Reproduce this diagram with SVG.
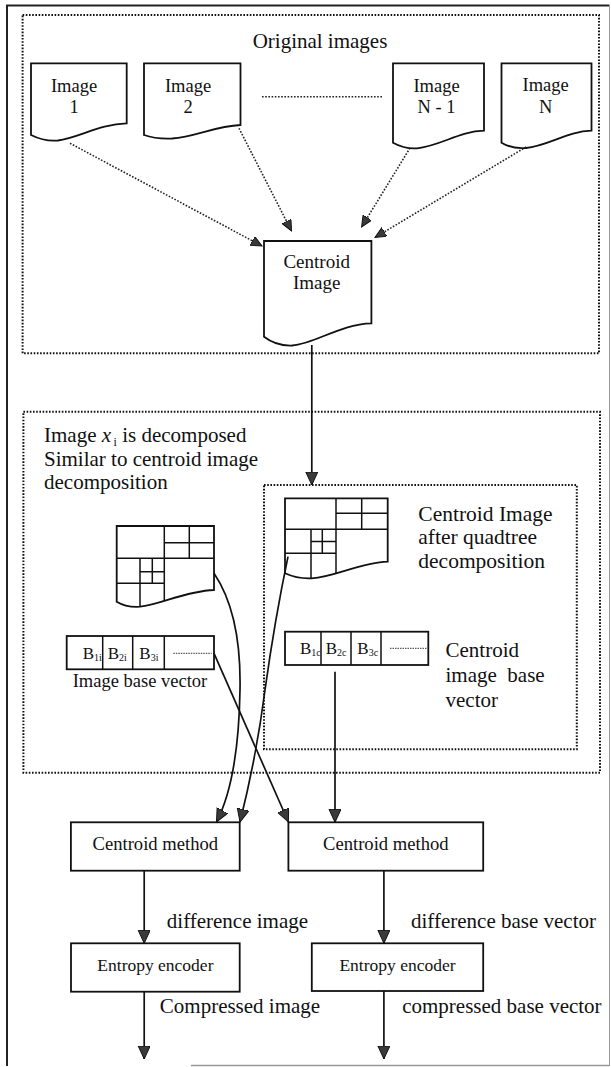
<svg xmlns="http://www.w3.org/2000/svg" width="611" height="1067" viewBox="0 0 611 1067">
<style>
text{font-family:"Liberation Serif","Times New Roman",serif;fill:#111}
.doc{fill:#fff;stroke:#111;stroke-width:1.8}
.box{fill:#fff;stroke:#111;stroke-width:1.8}
.grid{stroke:#111;stroke-width:1.5;fill:none}
.dotbox{fill:none;stroke:#111;stroke-width:2;stroke-dasharray:1.6 1.6}
.dotline{fill:none;stroke:#222;stroke-width:1.6;stroke-dasharray:1.6 1.6}
.conn{fill:none;stroke:#111;stroke-width:1.7}
.fine{stroke:#333;stroke-width:1;stroke-dasharray:1.5 1}
</style>
<defs>
<marker id="ah" markerUnits="userSpaceOnUse" markerWidth="14" markerHeight="13" refX="13" refY="6" orient="auto">
<path d="M0,0 L13,6 L0,12 Z" fill="#3a3a3a" stroke="#111" stroke-width="1" stroke-dasharray="none"/>
</marker>
<marker id="ahs" markerUnits="userSpaceOnUse" markerWidth="12" markerHeight="11" refX="11" refY="5" orient="auto">
<path d="M0,0 L11,5 L0,10 Z" fill="#3a3a3a" stroke="#111" stroke-width="1" stroke-dasharray="none"/>
</marker>
<clipPath id="clipXi"><path d="M116.7,526 H214 V590 C185,591 160,605 140,606.7 C130,607.3 122,605 116.7,601.7 Z"/></clipPath>
<clipPath id="clipC"><path d="M285,498.3 H387.7 V561.7 C360,562.5 335,577 311.7,578.3 C300,579 291,576 285,573.3 Z"/></clipPath>
</defs>

<g id="frame">
<path d="M7,1066 V5.5 H609.5" fill="none" stroke="#222" stroke-width="2"/>
<path d="M609.5,5.5 V1066" fill="none" stroke="#999" stroke-width="1"/>
<path d="M191,1065.5 H609.5" fill="none" stroke="#999" stroke-width="1.5"/>
</g>

<g id="group-original">
<rect class="dotbox" x="22.6" y="15" width="576.4" height="338.3"/>
<text x="320" y="47.7" font-size="21" text-anchor="middle">Original images</text>
</g>

<g id="img1">
<path class="doc" d="M31,63.3 H126.7 V123.3 C100,124 78,138 58,140.5 C47,141.5 39,139 31,135 Z"/>
<text x="74" y="91.7" font-size="18.5" text-anchor="middle">Image</text>
<text x="74" y="113.3" font-size="18.5" text-anchor="middle">1</text>
</g>
<g id="img2">
<path class="doc" d="M144,63.3 H240.5 V125 C215,126 195,137 172,138.5 C160,139 151,137.5 144,135 Z"/>
<text x="188" y="91.7" font-size="18.5" text-anchor="middle">Image</text>
<text x="188" y="113.3" font-size="18.5" text-anchor="middle">2</text>
</g>
<g id="imgN1">
<path class="doc" d="M393,63.3 H484 V130.7 C460,131 440,146 417,148.3 C407,149 399,146 393,142.7 Z"/>
<text x="436.5" y="91.7" font-size="18.5" text-anchor="middle">Image</text>
<text x="436.5" y="113.3" font-size="18.5" text-anchor="middle">N - 1</text>
</g>
<g id="imgN">
<path class="doc" d="M501.5,63.3 H591.5 V130.7 C568,131 548,146 526,148 C515,149 507,146 501.5,142.7 Z"/>
<text x="545.6" y="91" font-size="18.5" text-anchor="middle">Image</text>
<text x="545.6" y="113.3" font-size="18.5" text-anchor="middle">N</text>
</g>
<g id="centroid-image">
<path class="doc" d="M264,241 H371.4 V323.3 C340,324 315,344 292,345.5 C280,346 271,342 264,336.7 Z" stroke-width="2.2"/>
<text x="316.7" y="268.3" font-size="19" text-anchor="middle">Centroid</text>
<text x="316.7" y="289.3" font-size="19" text-anchor="middle">Image</text>
</g>

<g id="group-decomp">
<rect class="dotbox" x="23.4" y="411.7" width="576.6" height="361"/>
<text x="44" y="442" font-size="21">Image <tspan font-style="italic">x</tspan><tspan font-size="12" dx="2.5" dy="4">i</tspan><tspan dy="-4"> is decomposed</tspan></text>
<text x="44" y="465.5" font-size="21">Similar to centroid image</text>
<text x="44" y="488.5" font-size="21">decomposition</text>
</g>

<g id="group-centroid-decomp">
<rect class="dotbox" x="264" y="485" width="312.8" height="264.3"/>
<text x="418.3" y="520.7" font-size="21.5">Centroid Image</text>
<text x="418.3" y="544" font-size="21.5">after quadtree</text>
<text x="418.3" y="568.3" font-size="21.5">decomposition</text>
</g>

<g id="xi-quadtree">
<path class="doc" d="M116.7,526 H214 V590 C185,591 160,605 140,606.7 C130,607.3 122,605 116.7,601.7 Z"/>
<g clip-path="url(#clipXi)" class="grid">
<path d="M116.7,558.3 H214 M164.3,526 V612 M189.3,526 V558.3 M164.3,542.7 H214 M116.7,583.3 H164.3 M140,558.3 V612 M152.3,558.3 V583.3 M140,571.7 H164.3"/>
</g>
</g>

<g id="centroid-quadtree">
<path class="doc" d="M285,498.3 H387.7 V561.7 C360,562.5 335,577 311.7,578.3 C300,579 291,576 285,573.3 Z"/>
<g clip-path="url(#clipC)" class="grid">
<path d="M285,529.3 H387.7 M336,498.3 V585 M361.7,498.3 V529.3 M336,513.3 H387.7 M285,553.3 H336 M311,529.3 V585 M322.3,529.3 V553.3 M311,541.5 H336"/>
</g>
</g>

<g id="xi-vector">
<rect class="box" x="66.7" y="636" width="147.3" height="33.3" stroke-width="1.5"/>
<path class="grid" d="M102.7,636 V669.3 M132.7,636 V669.3 M164.3,636 V669.3"/>
<text x="82.7" y="659" font-size="17">B<tspan font-size="10" dy="2">1i</tspan></text>
<text x="107.7" y="659" font-size="17">B<tspan font-size="10" dy="2">2i</tspan></text>
<text x="139.3" y="659" font-size="17">B<tspan font-size="10" dy="2">3i</tspan></text>
<path class="fine" d="M173.3,653.3 H211.7"/>
<text x="72.7" y="686.7" font-size="18.5">Image base vector</text>
</g>

<g id="centroid-vector">
<rect class="box" x="285" y="631.7" width="143.3" height="33.3" stroke-width="1.5"/>
<path class="grid" d="M321,631.7 V665 M351,631.7 V665 M381,631.7 V665"/>
<text x="300" y="654" font-size="17">B<tspan font-size="10" dy="2">1c</tspan></text>
<text x="325.7" y="654" font-size="17">B<tspan font-size="10" dy="2">2c</tspan></text>
<text x="357.3" y="654" font-size="17">B<tspan font-size="10" dy="2">3c</tspan></text>
<path class="fine" d="M390,648.3 H426.7"/>
<text x="445.5" y="657" font-size="21">Centroid</text>
<text x="445.5" y="682" font-size="21" xml:space="preserve">image  base</text>
<text x="445.5" y="707" font-size="21">vector</text>
</g>

<g id="cm-left">
<rect class="box" x="70.9" y="822.3" width="168.8" height="48.4"/>
<text x="155.3" y="850" font-size="18.6" text-anchor="middle">Centroid method</text>
</g>
<g id="cm-right">
<rect class="box" x="288.4" y="822.3" width="194.8" height="48.4"/>
<text x="385.8" y="850" font-size="18.6" text-anchor="middle">Centroid method</text>
</g>
<g id="ee-left">
<rect class="box" x="71" y="943.3" width="168.7" height="48.4"/>
<text x="155.4" y="970.7" font-size="17.5" text-anchor="middle">Entropy encoder</text>
</g>
<g id="ee-right">
<rect class="box" x="311.8" y="943.3" width="171.4" height="47.7"/>
<text x="397.5" y="970.7" font-size="17.5" text-anchor="middle">Entropy encoder</text>
</g>

<g id="labels">
<text x="166.8" y="928.3" font-size="21">difference image</text>
<text x="411" y="928.3" font-size="21">difference base vector</text>
<text x="159.8" y="1013.3" font-size="21">Compressed image</text>
<text x="402.2" y="1013.3" font-size="21">compressed base vector</text>
</g>

<g id="connectors">
<line class="dotline" x1="262" y1="96.7" x2="382" y2="96.7"/>
<path class="dotline" d="M70,143.3 L262,246" marker-end="url(#ahs)"/>
<path class="dotline" d="M239,128.3 L291.5,231" marker-end="url(#ahs)"/>
<path class="dotline" d="M410,148 L361.6,227" marker-end="url(#ahs)"/>
<path class="dotline" d="M526,147 L375,237.5" marker-end="url(#ahs)"/>
<path class="conn" d="M311.8,345 V485" marker-end="url(#ah)"/>
<path class="conn" d="M214,573.3 C232,600 241,640 240,690 C239,750 232,792 216.5,822" marker-end="url(#ah)"/>
<path class="conn" d="M288,556.7 C281,590 272,640 265,690 C258,745 248,790 240,822" marker-end="url(#ah)"/>
<path class="conn" d="M214,653.3 L288.4,822" marker-end="url(#ah)"/>
<path class="conn" d="M335,671.7 V822.3" marker-end="url(#ah)"/>
<path class="conn" d="M144.2,870.7 V943.3" marker-end="url(#ah)"/>
<path class="conn" d="M383.9,870.7 V943.3" marker-end="url(#ah)"/>
<path class="conn" d="M144.2,991.7 V1059" marker-end="url(#ah)"/>
<path class="conn" d="M383.9,991 V1059" marker-end="url(#ah)"/>
</g>
</svg>
